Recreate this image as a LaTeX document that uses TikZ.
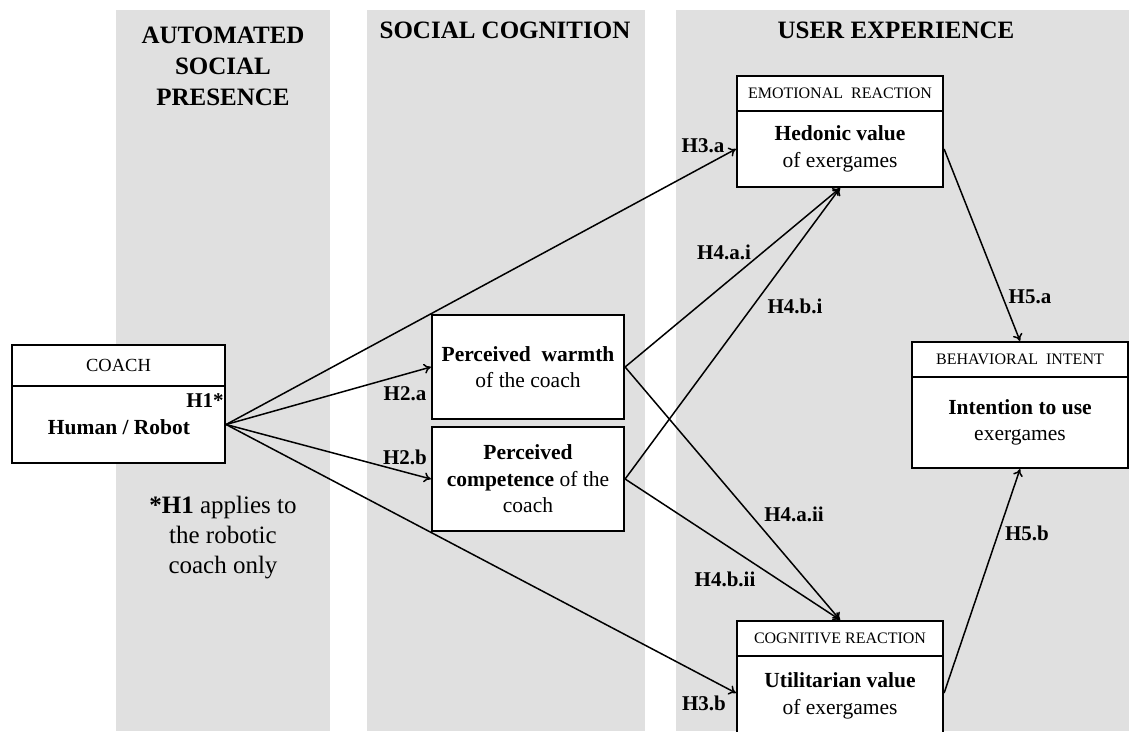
\documentclass[tikz,border=0pt]{standalone}
\usepackage{fontspec}
\setmainfont{Liberation Serif}
\usetikzlibrary{arrows.meta}
\definecolor{colbg}{RGB}{224,224,224}
\begin{document}
\begin{tikzpicture}[x=1pt,y=-1pt,
  box/.style={draw, line width=2.2pt, fill=white, inner sep=0pt, align=center},
  hd/.style={font=\fontsize{25}{31}\selectfont\bfseries, align=center, inner sep=0pt},
  capt/.style={font=\fontsize{16}{18}\selectfont},
  body/.style={font=\fontsize{21.5}{26.5}\selectfont},
  lab/.style={font=\fontsize{21}{24}\selectfont\bfseries, inner sep=0pt},
  arr/.style={line width=1.5pt, -{To[length=7pt,width=10pt]}}
]
\useasboundingbox (0,0) rectangle (1129,731);
% columns
\fill[colbg] (116,10) rectangle (330,731);
\fill[colbg] (367,10) rectangle (645,731);
\fill[colbg] (676,10) rectangle (1129,731);
% headers
\node[hd] (h1col) at (223,66) {AUTOMATED\\SOCIAL\\PRESENCE};
\node[hd] (h2col) at (505,30) {SOCIAL COGNITION};
\node[hd] (h3col) at (896,30) {USER EXPERIENCE};
% coach
\node[box, minimum width=213pt, minimum height=41pt, font=\fontsize{18.5}{20}\selectfont] (coachh) at (118.5,365.5) {COACH};
\node[box, minimum width=213pt, minimum height=77pt] (coach) at (118.5,424.5) {};
\node[lab] (h1) at (205,401) {H1*};
\node[font=\fontsize{21.5}{26}\selectfont\bfseries, inner sep=0pt] (hr) at (119,427) {Human / Robot};
\node[font=\fontsize{25}{30}\selectfont, align=center, inner sep=0pt] (note) at (223,538) {\textbf{*H1} applies to\\the robotic\\coach only};
% social cognition
\node[box, body, minimum width=192pt, minimum height=104pt] (warm) at (528,367) {\textbf{Perceived\ \ warmth}\\of the coach};
\node[box, body, minimum width=192pt, minimum height=104pt] (comp) at (528,479) {\textbf{Perceived}\\\textbf{competence} of the\\coach};
% user experience
\node[box, capt, minimum width=206pt, minimum height=35pt] (emoh) at (840,93.5) {EMOTIONAL\ \ REACTION};
\node[box, body, minimum width=206pt, minimum height=76pt] (emo) at (840,149) {\textbf{Hedonic value}\\of exergames};
\node[box, capt, minimum width=206pt, minimum height=35pt] (cogh) at (840,638.5) {COGNITIVE REACTION};
\node[box, body, minimum width=206pt, minimum height=80pt] (cog) at (840,696) {\textbf{Utilitarian value}\\of exergames};
\node[box, capt, minimum width=216pt, minimum height=35pt] (behh) at (1020,359.5) {BEHAVIORAL\ \ INTENT};
\node[box, body, minimum width=216pt, minimum height=91pt] (beh) at (1020,422.5) {\textbf{Intention to use}\\exergames};
% connectors
\draw[arr] (coach.east) -- (emo.west);
\draw[arr] (coach.east) -- (warm.west);
\draw[arr] (coach.east) -- (comp.west);
\draw[arr] (coach.east) -- ([yshift=3pt]cog.west);
\draw[arr] (warm.east) -- (emo.south);
\draw[arr] (comp.east) -- (emo.south);
\draw[arr] (warm.east) -- (cogh.north);
\draw[arr] (comp.east) -- (cogh.north);
\draw[arr] (emo.east) -- (behh.north);
\draw[arr] ([yshift=3pt]cog.east) -- (beh.south);
% labels
\node[lab] (l3a) at (703,146) {H3.a};
\node[lab] (l2a) at (405,394) {H2.a};
\node[lab] (l2b) at (405,457) {H2.b};
\node[lab] (l3b) at (704,703) {H3.b};
\node[lab] (l4ai) at (724,252) {H4.a.i};
\node[lab] (l4bi) at (795,306) {H4.b.i};
\node[lab] (l4aii) at (794,514) {H4.a.ii};
\node[lab] (l4bii) at (725,579) {H4.b.ii};
\node[lab] (l5a) at (1030,297) {H5.a};
\node[lab] (l5b) at (1027,533) {H5.b};
\end{tikzpicture}
\end{document}
